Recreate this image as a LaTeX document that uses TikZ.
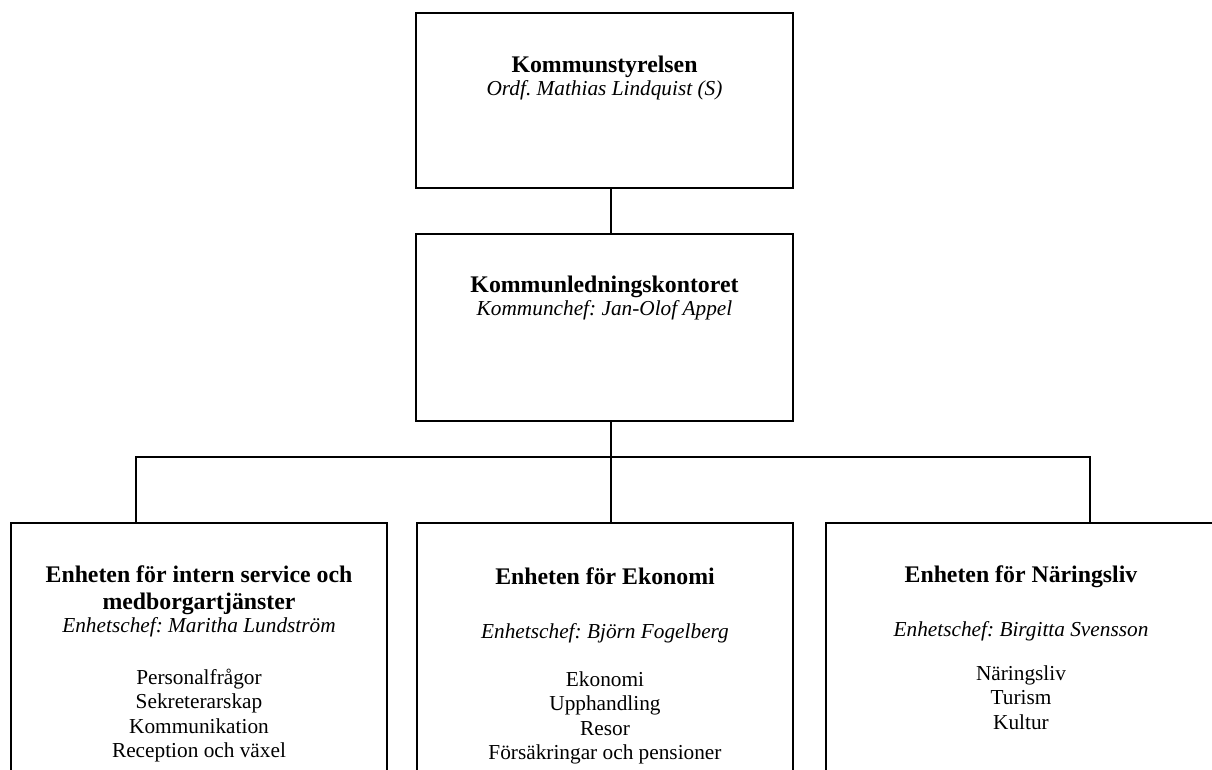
\documentclass[tikz,border=0pt]{standalone}
\usepackage{fontspec}
\setmainfont{Liberation Serif}
\usetikzlibrary{positioning}
\frenchspacing

\begin{document}
\begin{tikzpicture}[x=1pt,y=-1pt]
		\tikzstyle{every node}+=[inner sep=0pt]
		\tikzstyle{unit}=[draw=black, line width=1.8pt, rectangle, minimum width=376pt]
		\tikzstyle{head}=[font=\fontsize{23.8}{27}\selectfont\bfseries, anchor=base]
		\tikzstyle{chief}=[font=\fontsize{21.3}{24.5}\selectfont\itshape, anchor=base]
		\tikzstyle{task}=[font=\fontsize{21.3}{24.5}\selectfont, anchor=base]
		\tikzstyle{link}=[black, line width=1.4pt]
		\useasboundingbox (0,0) rectangle (1212,770);
		\clip (0,0) rectangle (1212,770);
		\node[unit, minimum width=377pt, minimum height=175pt] (ks) at (604.5,100.5) {};
		\node[unit, minimum width=377pt, minimum height=187pt] (klk) at (604.5,327.5) {};
		\node[unit, minimum height=307pt] (eis) at (199,676.5) {};
		\node[unit, minimum height=307pt] (eek) at (605,676.5) {};
		\node[unit, minimum width=390pt, minimum height=307pt] (enl) at (1021,676.5) {};
		\coordinate (hub) at (611,457);
		\coordinate (barl) at (136,457);
		\coordinate (barr) at (1090,457);
		\draw[link] (ks.south -| hub) -- (klk.north -| hub);
		\draw[link] (klk.south -| hub) -- (eek.north -| hub);
		\draw[link] (eis.north -| barl) -- (barl) -- (barr) -- (enl.north -| barr);
		\node[head] (ks-t) at (604.5,72.5) {Kommunstyrelsen};
		\node[chief] (ks-c) at (604.5,95.5) {Ordf. Mathias Lindquist (S)};
		\node[head] (klk-t) at (604.5,292.5) {Kommunledningskontoret};
		\node[chief] (klk-c) at (604.5,315) {Kommunchef: Jan-Olof Appel};
		\node[head] (eis-t1) at (199,582) {Enheten för intern service och};
		\node[head] (eis-t2) at (199,609) {medborgartjänster};
		\node[chief] (eis-c) at (199,632) {Enhetschef: Maritha Lundström};
		\foreach \t [count=\i from 0] in {Personalfrågor,Sekreterarskap,Kommunikation,Reception och växel}
			\node[task] (eis-\i) at (199,684+24.5*\i) {\t};
		\node[head] (eek-t) at (605,584) {Enheten för Ekonomi};
		\node[chief] (eek-c) at (605,638) {Enhetschef: Björn Fogelberg};
		\foreach \t [count=\i from 0] in {Ekonomi,Upphandling,Resor,Försäkringar och pensioner}
			\node[task] (eek-\i) at (605,686+24.5*\i) {\t};
		\node[head] (enl-t) at (1021,582.5) {Enheten för Näringsliv};
		\node[chief] (enl-c) at (1021,636) {Enhetschef: Birgitta Svensson};
		\foreach \t [count=\i from 0] in {Näringsliv,Turism,Kultur}
			\node[task] (enl-\i) at (1021,680+24.5*\i) {\t};
\end{tikzpicture}
\end{document}
